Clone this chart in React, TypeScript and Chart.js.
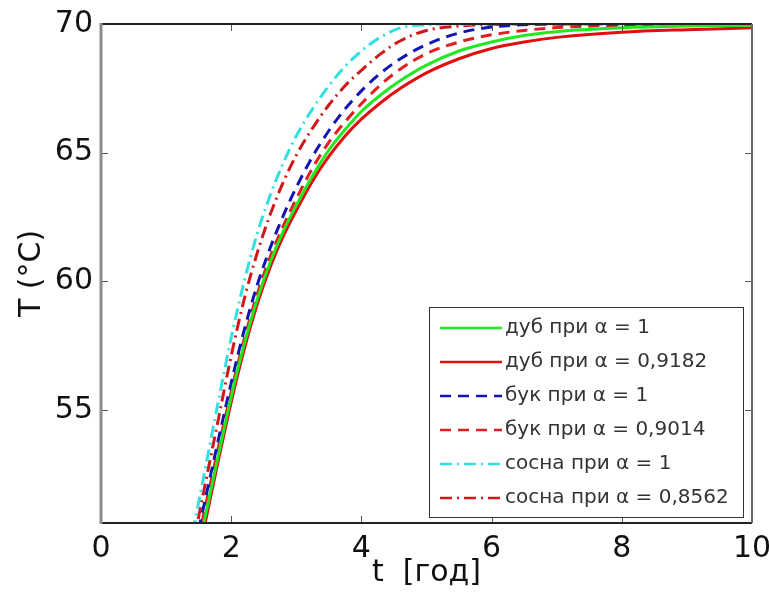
import React, { useEffect, useRef } from "react";
import { Chart, registerables } from "chart.js";

Chart.register(...registerables);

// time grid, years
const tGrid = [1.2, 1.4, 1.6, 1.8, 2.0, 2.2, 2.4, 2.6, 2.8, 3.0, 3.25, 3.5, 3.75, 4.0, 4.3, 4.6, 5.0, 5.5, 6.0, 6.5, 7.0, 8.0, 9.0, 10.0];

// temperatures, °C
const dubA1 = [46.1, 48.5, 50.85, 53.2, 55.5, 57.55, 59.3, 60.75, 61.95, 62.95, 64.1, 65.1, 65.9, 66.6, 67.25, 67.8, 68.4, 68.95, 69.3, 69.55, 69.7, 69.85, 69.92, 69.95];
const dubA09182 = [45.8, 48.2, 50.6, 53.0, 55.3, 57.35, 59.1, 60.55, 61.75, 62.75, 63.9, 64.85, 65.65, 66.3, 66.95, 67.5, 68.1, 68.65, 69.05, 69.3, 69.48, 69.68, 69.78, 69.85];
const bukA1 = [46.9, 49.2, 51.5, 53.8, 56.05, 58.1, 59.85, 61.3, 62.55, 63.65, 64.85, 65.85, 66.7, 67.4, 68.1, 68.65, 69.2, 69.65, 69.88, 69.97, 70, 70, 70, 70];
const bukA09014 = [46.5, 48.9, 51.2, 53.5, 55.7, 57.75, 59.5, 60.95, 62.15, 63.2, 64.4, 65.4, 66.2, 66.9, 67.65, 68.25, 68.85, 69.3, 69.58, 69.75, 69.86, 69.95, 69.98, 70];
const sosnaA1 = [47.5, 50.1, 52.7, 55.3, 57.8, 60.0, 61.85, 63.35, 64.6, 65.65, 66.7, 67.6, 68.35, 68.95, 69.5, 69.85, 69.97, 70, 70, 70, 70, 70, 70, 70];
const sosnaA08562 = [47.1, 49.6, 52.1, 54.6, 57.1, 59.3, 61.1, 62.6, 63.85, 64.9, 65.95, 66.85, 67.6, 68.2, 68.85, 69.35, 69.75, 69.92, 69.98, 70, 70, 70, 70, 70];

const seriesLabels = [
  "дуб при α = 1",
  "дуб при α = 0,9182",
  "бук при α = 1",
  "бук при α = 0,9014",
  "сосна при α = 1",
  "сосна при α = 0,8562",
];

const xTicks = [0, 2, 4, 6, 8, 10];
const yTicks = [55, 60, 65, 70];

const FONT = "'DejaVu Sans', sans-serif";

const pts = (ys: number[]) => ys.map((y, i) => ({ x: tGrid[i], y }));

const framePlugin = {
  id: "frame",
  afterDatasetsDraw(chart: any) {
    const { ctx, chartArea: a, scales } = chart;
    const xs = scales.x;
    const ys = scales.y;
    ctx.save();
    // inward tick marks
    ctx.strokeStyle = "#555";
    ctx.lineWidth = 1;
    const tl = 7;
    xs.ticks.forEach((t: any) => {
      const px = Math.round(xs.getPixelForValue(t.value)) + 0.5;
      ctx.beginPath();
      ctx.moveTo(px, a.bottom);
      ctx.lineTo(px, a.bottom - tl);
      ctx.moveTo(px, a.top);
      ctx.lineTo(px, a.top + tl);
      ctx.stroke();
    });
    ys.ticks.forEach((t: any) => {
      const py = Math.round(ys.getPixelForValue(t.value)) + 0.5;
      ctx.beginPath();
      ctx.moveTo(a.left, py);
      ctx.lineTo(a.left + tl, py);
      ctx.moveTo(a.right, py);
      ctx.lineTo(a.right - tl, py);
      ctx.stroke();
    });
    // box
    ctx.lineWidth = 2;
    ctx.strokeStyle = "#222";
    ctx.beginPath();
    ctx.moveTo(a.left, a.top);
    ctx.lineTo(a.right, a.top);
    ctx.moveTo(a.left, a.bottom);
    ctx.lineTo(a.right, a.bottom);
    ctx.stroke();
    ctx.strokeStyle = "#666";
    ctx.beginPath();
    ctx.moveTo(a.right, a.top);
    ctx.lineTo(a.right, a.bottom);
    ctx.stroke();
    ctx.lineWidth = 3;
    ctx.strokeStyle = "#8c8c8c";
    ctx.beginPath();
    ctx.moveTo(a.left, a.top - 1);
    ctx.lineTo(a.left, a.bottom + 1);
    ctx.stroke();

    // legend
    const lw = 314;
    const lh = 210;
    const lx = a.right - 9 - lw;
    const ly = a.bottom - 6 - lh;
    ctx.fillStyle = "#fff";
    ctx.fillRect(lx, ly, lw, lh);
    ctx.lineWidth = 1;
    ctx.strokeStyle = "#333";
    ctx.strokeRect(lx + 0.5, ly + 0.5, lw, lh);
    ctx.font = "20px " + FONT;
    ctx.textBaseline = "middle";
    ctx.textAlign = "left";
    chart.data.datasets.forEach((ds: any, i: number) => {
      const cy = ly + 21 + i * 34;
      ctx.save();
      ctx.strokeStyle = ds.borderColor;
      ctx.lineWidth = 2.5;
      ctx.setLineDash(ds.borderDash || []);
      ctx.beginPath();
      ctx.moveTo(lx + 11, cy);
      ctx.lineTo(lx + 73, cy);
      ctx.stroke();
      ctx.restore();
      ctx.fillStyle = "#333";
      ctx.fillText(ds.label, lx + 76, cy);
    });
    ctx.restore();
  },
};

export default function App() {
  const ref = useRef<HTMLCanvasElement | null>(null);
  useEffect(() => {
    document.body.style.margin = "0";
    const canvas = ref.current!;
    const mk = (i: number, data: number[], color: string, dash: number[]) => ({
      label: seriesLabels[i],
      data: pts(data),
      borderColor: color,
      backgroundColor: color,
      borderWidth: 3,
      borderDash: dash,
      pointRadius: 0,
      fill: false,
      cubicInterpolationMode: "monotone" as const,
    });
    const dashed = [11, 7];
    const dashDot = [12, 5, 2, 5];
    const chart = new Chart(canvas, {
      type: "line",
      data: {
        datasets: [
          mk(0, dubA1, "#22e822", []),
          mk(1, dubA09182, "#e01010", []),
          mk(2, bukA1, "#1414b4", dashed),
          mk(3, bukA09014, "#e02020", dashed),
          mk(4, sosnaA1, "#33e0e0", dashDot),
          mk(5, sosnaA08562, "#d01818", dashDot),
        ],
      },
      options: {
        animation: false,
        responsive: false,
        maintainAspectRatio: false,
        layout: { padding: { top: 24, right: 17, bottom: 0, left: 0 } },
        plugins: { legend: { display: false }, tooltip: { enabled: false } },
        scales: {
          x: {
            type: "linear",
            min: 0,
            max: 10,
            afterBuildTicks: (s: any) => {
              s.ticks = xTicks.map((v) => ({ value: v }));
            },
            afterFit: (s: any) => {
              s.height = 77;
              s.paddingLeft = 0;
              s.paddingRight = 0;
            },
            grid: { display: false, drawTicks: false },
            border: { display: false },
            ticks: {
              padding: 8,
              color: "#111",
              font: { family: FONT, size: 30 },
              maxRotation: 0,
              autoSkip: false,
            },
            title: {
              display: true,
              text: "t  [год]",
              color: "#111",
              font: { family: FONT, size: 30 },
              padding: { top: 0, bottom: 9 },
            },
          },
          y: {
            type: "linear",
            min: 50.6,
            max: 70,
            afterBuildTicks: (s: any) => {
              s.ticks = yTicks.map((v) => ({ value: v }));
            },
            afterFit: (s: any) => {
              s.width = 101;
              s.paddingTop = 0;
              s.paddingBottom = 0;
            },
            grid: { display: false, drawTicks: false },
            border: { display: false },
            ticks: {
              padding: 8,
              color: "#111",
              font: { family: FONT, size: 30 },
              autoSkip: false,
            },
            title: {
              display: true,
              text: "T (°C)",
              color: "#111",
              font: { family: FONT, size: 30 },
              padding: { top: 14, bottom: 0 },
            },
          },
        },
      },
      plugins: [framePlugin],
    });
    return () => chart.destroy();
  }, []);
  return (
    <div style={{ position: "absolute", left: 0, top: 0, width: 769, height: 600, background: "#fff" }}>
      <canvas ref={ref} width={769} height={600} style={{ width: 769, height: 600, display: "block" }} />
    </div>
  );
}
